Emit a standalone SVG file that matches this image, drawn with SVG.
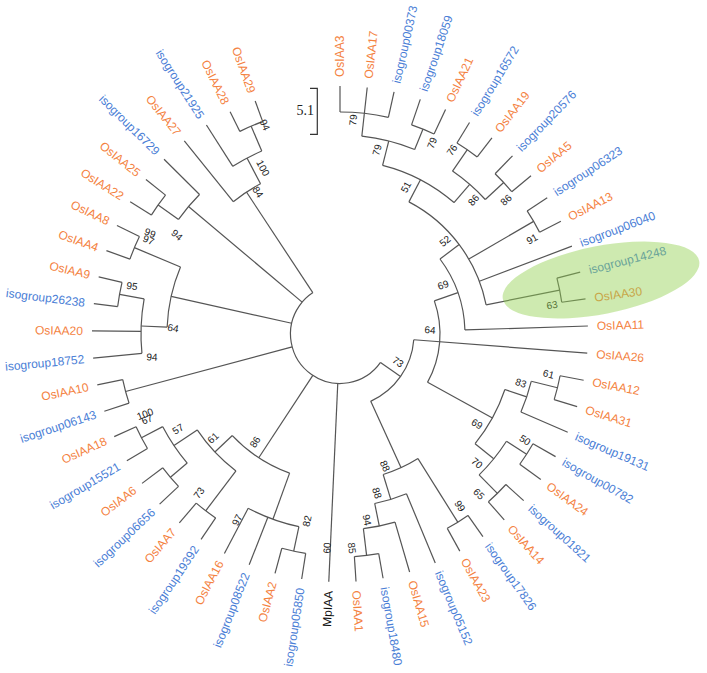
<svg xmlns="http://www.w3.org/2000/svg" width="707" height="673" viewBox="0 0 707 673">
<style>
.c line,.c circle{fill:none;stroke:#555;stroke-width:1.2}
text{font-family:"Liberation Sans",Arial,sans-serif;font-size:12px}
.o{fill:#F4823F}
.b{fill:#4A7ED6}
.k{fill:#111}
.r text{text-anchor:start}
.l text{text-anchor:end}
.bs{font-size:10px;fill:#222;text-anchor:middle}
</style>
<rect width="707" height="673" fill="#fff"/>
<g id="connectors" class="c">
<!-- arcs -->
<circle cx="340" cy="334" r="222" stroke-dasharray="48.78 3000" transform="rotate(-90 340 334)"/>
<circle cx="340" cy="334" r="221" stroke-dasharray="24.30 3000" transform="rotate(-71.11 340 334)"/>
<circle cx="340" cy="334" r="199" stroke-dasharray="54.67 3000" transform="rotate(-83.70 340 334)"/>
<circle cx="340" cy="334" r="224" stroke-dasharray="24.63 3000" transform="rotate(-58.52 340 334)"/>
<circle cx="340" cy="334" r="223" stroke-dasharray="24.52 3000" transform="rotate(-45.93 340 334)"/>
<circle cx="340" cy="334" r="198" stroke-dasharray="43.51 3000" transform="rotate(-55.37 340 334)"/>
<circle cx="340" cy="334" r="174" stroke-dasharray="81.27 3000" transform="rotate(-75.83 340 334)"/>
<circle cx="340" cy="334" r="224" stroke-dasharray="24.59 3000" transform="rotate(-33.33 340 334)"/>
<circle cx="340" cy="334" r="224" stroke-dasharray="24.59 3000" transform="rotate(-14.44 340 334)"/>
<circle cx="340" cy="334" r="149" stroke-dasharray="133.02 3000" transform="rotate(-62.45 340 334)"/>
<circle cx="340" cy="334" r="125" stroke-dasharray="76.40 3000" transform="rotate(-36.87 340 334)"/>
<circle cx="340" cy="334" r="224" stroke-dasharray="24.63 3000" transform="rotate(10.74 340 334)"/>
<circle cx="340" cy="334" r="197" stroke-dasharray="32.46 3000" transform="rotate(13.89 340 334)"/>
<circle cx="340" cy="334" r="222" stroke-dasharray="24.41 3000" transform="rotate(29.63 340 334)"/>
<circle cx="340" cy="334" r="224" stroke-dasharray="24.63 3000" transform="rotate(42.22 340 334)"/>
<circle cx="340" cy="334" r="198" stroke-dasharray="43.51 3000" transform="rotate(32.78 340 334)"/>
<circle cx="340" cy="334" r="174" stroke-dasharray="62.13 3000" transform="rotate(18.61 340 334)"/>
<circle cx="340" cy="334" r="100" stroke-dasharray="84.13 3000" transform="rotate(-19.36 340 334)"/>
<circle cx="340" cy="334" r="223" stroke-dasharray="24.52 3000" transform="rotate(80 340 334)"/>
<circle cx="340" cy="334" r="196" stroke-dasharray="32.33 3000" transform="rotate(73.70 340 334)"/>
<circle cx="340" cy="334" r="173" stroke-dasharray="33.27 3000" transform="rotate(67.41 340 334)"/>
<circle cx="340" cy="334" r="222" stroke-dasharray="24.41 3000" transform="rotate(54.81 340 334)"/>
<circle cx="340" cy="334" r="147" stroke-dasharray="38.38 3000" transform="rotate(57.96 340 334)"/>
<circle cx="340" cy="334" r="74" stroke-dasharray="78.78 3000" transform="rotate(4.44 340 334)"/>
<circle cx="340" cy="334" r="49.5" stroke-dasharray="174.11 3000" transform="rotate(35.09 340 334)"/>
<circle cx="340" cy="334" r="222" stroke-dasharray="24.41 3000" transform="rotate(98.89 340 334)"/>
<circle cx="340" cy="334" r="197" stroke-dasharray="54.12 3000" transform="rotate(102.04 340 334)"/>
<circle cx="340" cy="334" r="222" stroke-dasharray="24.41 3000" transform="rotate(124.07 340 334)"/>
<circle cx="340" cy="334" r="222" stroke-dasharray="24.37 3000" transform="rotate(136.67 340 334)"/>
<circle cx="340" cy="334" r="224" stroke-dasharray="24.63 3000" transform="rotate(149.26 340 334)"/>
<circle cx="340" cy="334" r="200" stroke-dasharray="43.98 3000" transform="rotate(139.81 340 334)"/>
<circle cx="340" cy="334" r="172" stroke-dasharray="56.71 3000" transform="rotate(127.22 340 334)"/>
<circle cx="340" cy="334" r="148" stroke-dasharray="69.12 3000" transform="rotate(109.91 340 334)"/>
<circle cx="340" cy="334" r="222" stroke-dasharray="24.41 3000" transform="rotate(161.85 340 334)"/>
<circle cx="340" cy="334" r="224" stroke-dasharray="24.59 3000" transform="rotate(187.04 340 334)"/>
<circle cx="340" cy="334" r="199" stroke-dasharray="54.70 3000" transform="rotate(174.44 340 334)"/>
<circle cx="340" cy="334" r="223" stroke-dasharray="24.52 3000" transform="rotate(199.63 340 334)"/>
<circle cx="340" cy="334" r="173" stroke-dasharray="61.81 3000" transform="rotate(182.31 340 334)"/>
<circle cx="340" cy="334" r="223" stroke-dasharray="24.52 3000" transform="rotate(212.22 340 334)"/>
<circle cx="340" cy="334" r="198" stroke-dasharray="32.62 3000" transform="rotate(215.37 340 334)"/>
<circle cx="340" cy="334" r="226" stroke-dasharray="24.85 3000" transform="rotate(243.70 340 334)"/>
<circle cx="340" cy="334" r="199" stroke-dasharray="32.79 3000" transform="rotate(237.41 340 334)"/>
<circle cx="340" cy="334" r="170" stroke-dasharray="32.70 3000" transform="rotate(231.11 340 334)"/>
<!-- leaf branches -->
<line x1="562" y1="334" x2="588" y2="334" transform="rotate(-90 340 334)"/>
<line x1="539" y1="334" x2="588" y2="334" transform="rotate(-83.70 340 334)"/>
<line x1="562" y1="334" x2="588" y2="334" transform="rotate(-77.41 340 334)"/>
<line x1="561" y1="334" x2="588" y2="334" transform="rotate(-71.11 340 334)"/>
<line x1="561" y1="334" x2="588" y2="334" transform="rotate(-64.81 340 334)"/>
<line x1="564" y1="334" x2="588" y2="334" transform="rotate(-58.52 340 334)"/>
<line x1="564" y1="334" x2="588" y2="334" transform="rotate(-52.22 340 334)"/>
<line x1="563" y1="334" x2="588" y2="334" transform="rotate(-45.93 340 334)"/>
<line x1="563" y1="334" x2="588" y2="334" transform="rotate(-39.63 340 334)"/>
<line x1="564" y1="334" x2="588" y2="334" transform="rotate(-33.33 340 334)"/>
<line x1="564" y1="334" x2="588" y2="334" transform="rotate(-27.04 340 334)"/>
<line x1="489" y1="334" x2="588" y2="334" transform="rotate(-20.74 340 334)"/>
<line x1="564" y1="334" x2="588" y2="334" transform="rotate(-14.44 340 334)"/>
<line x1="564" y1="334" x2="588" y2="334" transform="rotate(-8.15 340 334)"/>
<line x1="465" y1="334" x2="588" y2="334" transform="rotate(-1.85 340 334)"/>
<line x1="414" y1="334" x2="588" y2="334" transform="rotate(4.44 340 334)"/>
<line x1="564" y1="334" x2="588" y2="334" transform="rotate(10.74 340 334)"/>
<line x1="564" y1="334" x2="588" y2="334" transform="rotate(17.04 340 334)"/>
<line x1="537" y1="334" x2="588" y2="334" transform="rotate(23.33 340 334)"/>
<line x1="562" y1="334" x2="588" y2="334" transform="rotate(29.63 340 334)"/>
<line x1="562" y1="334" x2="588" y2="334" transform="rotate(35.93 340 334)"/>
<line x1="564" y1="334" x2="588" y2="334" transform="rotate(42.22 340 334)"/>
<line x1="564" y1="334" x2="588" y2="334" transform="rotate(48.52 340 334)"/>
<line x1="562" y1="334" x2="588" y2="334" transform="rotate(54.81 340 334)"/>
<line x1="562" y1="334" x2="588" y2="334" transform="rotate(61.11 340 334)"/>
<line x1="513" y1="334" x2="588" y2="334" transform="rotate(67.41 340 334)"/>
<line x1="536" y1="334" x2="588" y2="334" transform="rotate(73.70 340 334)"/>
<line x1="563" y1="334" x2="588" y2="334" transform="rotate(80 340 334)"/>
<line x1="563" y1="334" x2="588" y2="334" transform="rotate(86.30 340 334)"/>
<line x1="389.5" y1="334" x2="588" y2="334" transform="rotate(92.59 340 334)"/>
<line x1="562" y1="334" x2="588" y2="334" transform="rotate(98.89 340 334)"/>
<line x1="562" y1="334" x2="588" y2="334" transform="rotate(105.19 340 334)"/>
<line x1="537" y1="334" x2="588" y2="334" transform="rotate(111.48 340 334)"/>
<line x1="537" y1="334" x2="588" y2="334" transform="rotate(117.78 340 334)"/>
<line x1="562" y1="334" x2="588" y2="334" transform="rotate(124.07 340 334)"/>
<line x1="562" y1="334" x2="588" y2="334" transform="rotate(130.37 340 334)"/>
<line x1="562" y1="334" x2="588" y2="334" transform="rotate(136.67 340 334)"/>
<line x1="562" y1="334" x2="588" y2="334" transform="rotate(142.96 340 334)"/>
<line x1="564" y1="334" x2="588" y2="334" transform="rotate(149.26 340 334)"/>
<line x1="564" y1="334" x2="588" y2="334" transform="rotate(155.56 340 334)"/>
<line x1="562" y1="334" x2="588" y2="334" transform="rotate(161.85 340 334)"/>
<line x1="562" y1="334" x2="588" y2="334" transform="rotate(168.15 340 334)"/>
<line x1="539" y1="334" x2="588" y2="334" transform="rotate(174.44 340 334)"/>
<line x1="539" y1="334" x2="588" y2="334" transform="rotate(180.74 340 334)"/>
<line x1="564" y1="334" x2="588" y2="334" transform="rotate(187.04 340 334)"/>
<line x1="564" y1="334" x2="588" y2="334" transform="rotate(193.33 340 334)"/>
<line x1="563" y1="334" x2="588" y2="334" transform="rotate(199.63 340 334)"/>
<line x1="563" y1="334" x2="588" y2="334" transform="rotate(205.93 340 334)"/>
<line x1="563" y1="334" x2="588" y2="334" transform="rotate(212.22 340 334)"/>
<line x1="563" y1="334" x2="588" y2="334" transform="rotate(218.52 340 334)"/>
<line x1="538" y1="334" x2="588" y2="334" transform="rotate(224.81 340 334)"/>
<line x1="510" y1="334" x2="588" y2="334" transform="rotate(231.11 340 334)"/>
<line x1="539" y1="334" x2="588" y2="334" transform="rotate(237.41 340 334)"/>
<line x1="566" y1="334" x2="588" y2="334" transform="rotate(243.70 340 334)"/>
<line x1="566" y1="334" x2="588" y2="334" transform="rotate(250 340 334)"/>
<!-- internal stems -->
<line x1="539" y1="334" x2="561" y2="334" transform="rotate(-67.96 340 334)"/>
<line x1="514" y1="334" x2="539" y2="334" transform="rotate(-75.83 340 334)"/>
<line x1="538" y1="334" x2="564" y2="334" transform="rotate(-55.37 340 334)"/>
<line x1="538" y1="334" x2="563" y2="334" transform="rotate(-42.78 340 334)"/>
<line x1="514" y1="334" x2="538" y2="334" transform="rotate(-49.07 340 334)"/>
<line x1="489" y1="334" x2="514" y2="334" transform="rotate(-62.45 340 334)"/>
<line x1="489" y1="334" x2="564" y2="334" transform="rotate(-30.19 340 334)"/>
<line x1="489" y1="334" x2="564" y2="334" transform="rotate(-11.30 340 334)"/>
<line x1="465" y1="334" x2="489" y2="334" transform="rotate(-36.87 340 334)"/>
<line x1="440" y1="334" x2="465" y2="334" transform="rotate(-19.36 340 334)"/>
<line x1="537" y1="334" x2="564" y2="334" transform="rotate(13.89 340 334)"/>
<line x1="514" y1="334" x2="537" y2="334" transform="rotate(18.61 340 334)"/>
<line x1="538" y1="334" x2="562" y2="334" transform="rotate(32.78 340 334)"/>
<line x1="538" y1="334" x2="564" y2="334" transform="rotate(45.37 340 334)"/>
<line x1="514" y1="334" x2="538" y2="334" transform="rotate(39.07 340 334)"/>
<line x1="440" y1="334" x2="514" y2="334" transform="rotate(28.84 340 334)"/>
<line x1="536" y1="334" x2="563" y2="334" transform="rotate(83.15 340 334)"/>
<line x1="513" y1="334" x2="536" y2="334" transform="rotate(78.43 340 334)"/>
<line x1="487" y1="334" x2="513" y2="334" transform="rotate(72.92 340 334)"/>
<line x1="487" y1="334" x2="562" y2="334" transform="rotate(57.96 340 334)"/>
<line x1="414" y1="334" x2="487" y2="334" transform="rotate(65.44 340 334)"/>
<line x1="389.5" y1="334" x2="414" y2="334" transform="rotate(35.09 340 334)"/>
<line x1="537" y1="334" x2="562" y2="334" transform="rotate(102.04 340 334)"/>
<line x1="488" y1="334" x2="537" y2="334" transform="rotate(109.91 340 334)"/>
<line x1="512" y1="334" x2="562" y2="334" transform="rotate(127.22 340 334)"/>
<line x1="540" y1="334" x2="562" y2="334" transform="rotate(139.81 340 334)"/>
<line x1="540" y1="334" x2="564" y2="334" transform="rotate(152.41 340 334)"/>
<line x1="512" y1="334" x2="540" y2="334" transform="rotate(146.11 340 334)"/>
<line x1="488" y1="334" x2="512" y2="334" transform="rotate(136.67 340 334)"/>
<line x1="389.5" y1="334" x2="488" y2="334" transform="rotate(123.29 340 334)"/>
<line x1="389.5" y1="334" x2="562" y2="334" transform="rotate(165 340 334)"/>
<line x1="539" y1="334" x2="564" y2="334" transform="rotate(190.19 340 334)"/>
<line x1="513" y1="334" x2="539" y2="334" transform="rotate(182.31 340 334)"/>
<line x1="513" y1="334" x2="563" y2="334" transform="rotate(202.78 340 334)"/>
<line x1="389.5" y1="334" x2="513" y2="334" transform="rotate(192.55 340 334)"/>
<line x1="538" y1="334" x2="563" y2="334" transform="rotate(215.37 340 334)"/>
<line x1="389.5" y1="334" x2="538" y2="334" transform="rotate(220.09 340 334)"/>
<line x1="539" y1="334" x2="566" y2="334" transform="rotate(246.85 340 334)"/>
<line x1="510" y1="334" x2="539" y2="334" transform="rotate(242.13 340 334)"/>
<line x1="389.5" y1="334" x2="510" y2="334" transform="rotate(236.62 340 334)"/>
</g>
<g class="r">
<g id="OsIAA3" transform="rotate(-90 340 334)"><text class="o" x="597" y="338.3">OsIAA3</text></g>
<g id="OsIAA17" transform="rotate(-83.70 340 334)"><text class="o" x="597" y="338.3">OsIAA17</text></g>
<g id="isogroup00373" transform="rotate(-77.41 340 334)"><text class="b" x="597" y="338.3">isogroup00373</text></g>
<g id="isogroup18059" transform="rotate(-71.11 340 334)"><text class="b" x="597" y="338.3">isogroup18059</text></g>
<g id="OsIAA21" transform="rotate(-64.81 340 334)"><text class="o" x="597" y="338.3">OsIAA21</text></g>
<g id="isogroup16572" transform="rotate(-58.52 340 334)"><text class="b" x="597" y="338.3">isogroup16572</text></g>
<g id="OsIAA19" transform="rotate(-52.22 340 334)"><text class="o" x="597" y="338.3">OsIAA19</text></g>
<g id="isogroup20576" transform="rotate(-45.93 340 334)"><text class="b" x="597" y="338.3">isogroup20576</text></g>
<g id="OsIAA5" transform="rotate(-39.63 340 334)"><text class="o" x="597" y="338.3">OsIAA5</text></g>
<g id="isogroup06323" transform="rotate(-33.33 340 334)"><text class="b" x="597" y="338.3">isogroup06323</text></g>
<g id="OsIAA13" transform="rotate(-27.04 340 334)"><text class="o" x="597" y="338.3">OsIAA13</text></g>
<g id="isogroup06040" transform="rotate(-20.74 340 334)"><text class="b" x="597" y="338.3">isogroup06040</text></g>
<g id="isogroup14248" transform="rotate(-14.44 340 334)"><text class="b" x="597" y="338.3">isogroup14248</text></g>
<g id="OsIAA30" transform="rotate(-8.15 340 334)"><text class="o" x="597" y="338.3">OsIAA30</text></g>
<g id="OsIAA11" transform="rotate(-1.85 340 334)"><text class="o" x="597" y="338.3">OsIAA11</text></g>
<g id="OsIAA26" transform="rotate(4.44 340 334)"><text class="o" x="597" y="338.3">OsIAA26</text></g>
<g id="OsIAA12" transform="rotate(10.74 340 334)"><text class="o" x="597" y="338.3">OsIAA12</text></g>
<g id="OsIAA31" transform="rotate(17.04 340 334)"><text class="o" x="597" y="338.3">OsIAA31</text></g>
<g id="isogroup19131" transform="rotate(23.33 340 334)"><text class="b" x="597" y="338.3">isogroup19131</text></g>
<g id="isogroup00782" transform="rotate(29.63 340 334)"><text class="b" x="597" y="338.3">isogroup00782</text></g>
<g id="OsIAA24" transform="rotate(35.93 340 334)"><text class="o" x="597" y="338.3">OsIAA24</text></g>
<g id="isogroup01821" transform="rotate(42.22 340 334)"><text class="b" x="597" y="338.3">isogroup01821</text></g>
<g id="OsIAA14" transform="rotate(48.52 340 334)"><text class="o" x="597" y="338.3">OsIAA14</text></g>
<g id="isogroup17826" transform="rotate(54.81 340 334)"><text class="b" x="597" y="338.3">isogroup17826</text></g>
<g id="OsIAA23" transform="rotate(61.11 340 334)"><text class="o" x="597" y="338.3">OsIAA23</text></g>
<g id="isogroup05152" transform="rotate(67.41 340 334)"><text class="b" x="597" y="338.3">isogroup05152</text></g>
<g id="OsIAA15" transform="rotate(73.70 340 334)"><text class="o" x="597" y="338.3">OsIAA15</text></g>
<g id="isogroup18480" transform="rotate(80 340 334)"><text class="b" x="597" y="338.3">isogroup18480</text></g>
<g id="OsIAA1" transform="rotate(86.30 340 334)"><text class="o" x="597" y="338.3">OsIAA1</text></g>
</g>
<g class="l">
<g id="MpIAA" transform="rotate(-87.41 340 334)"><text class="k" x="83" y="338.3">MpIAA</text></g>
<g id="isogroup05850" transform="rotate(-81.11 340 334)"><text class="b" x="83" y="338.3">isogroup05850</text></g>
<g id="OsIAA2" transform="rotate(-74.81 340 334)"><text class="o" x="83" y="338.3">OsIAA2</text></g>
<g id="isogroup08522" transform="rotate(-68.52 340 334)"><text class="b" x="83" y="338.3">isogroup08522</text></g>
<g id="OsIAA16" transform="rotate(-62.22 340 334)"><text class="o" x="83" y="338.3">OsIAA16</text></g>
<g id="isogroup19392" transform="rotate(-55.93 340 334)"><text class="b" x="83" y="338.3">isogroup19392</text></g>
<g id="OsIAA7" transform="rotate(-49.63 340 334)"><text class="o" x="83" y="338.3">OsIAA7</text></g>
<g id="isogroup06656" transform="rotate(-43.33 340 334)"><text class="b" x="83" y="338.3">isogroup06656</text></g>
<g id="OsIAA6" transform="rotate(-37.04 340 334)"><text class="o" x="83" y="338.3">OsIAA6</text></g>
<g id="isogroup15521" transform="rotate(-30.74 340 334)"><text class="b" x="83" y="338.3">isogroup15521</text></g>
<g id="OsIAA18" transform="rotate(-24.44 340 334)"><text class="o" x="83" y="338.3">OsIAA18</text></g>
<g id="isogroup06143" transform="rotate(-18.15 340 334)"><text class="b" x="83" y="338.3">isogroup06143</text></g>
<g id="OsIAA10" transform="rotate(-11.85 340 334)"><text class="o" x="83" y="338.3">OsIAA10</text></g>
<g id="isogroup18752" transform="rotate(-5.56 340 334)"><text class="b" x="83" y="338.3">isogroup18752</text></g>
<g id="OsIAA20" transform="rotate(0.74 340 334)"><text class="o" x="83" y="338.3">OsIAA20</text></g>
<g id="isogroup26238" transform="rotate(7.04 340 334)"><text class="b" x="83" y="338.3">isogroup26238</text></g>
<g id="OsIAA9" transform="rotate(13.33 340 334)"><text class="o" x="83" y="338.3">OsIAA9</text></g>
<g id="OsIAA4" transform="rotate(19.63 340 334)"><text class="o" x="83" y="338.3">OsIAA4</text></g>
<g id="OsIAA8" transform="rotate(25.93 340 334)"><text class="o" x="83" y="338.3">OsIAA8</text></g>
<g id="OsIAA22" transform="rotate(32.22 340 334)"><text class="o" x="83" y="338.3">OsIAA22</text></g>
<g id="OsIAA25" transform="rotate(38.52 340 334)"><text class="o" x="83" y="338.3">OsIAA25</text></g>
<g id="isogroup16729" transform="rotate(44.81 340 334)"><text class="b" x="83" y="338.3">isogroup16729</text></g>
<g id="OsIAA27" transform="rotate(51.11 340 334)"><text class="o" x="83" y="338.3">OsIAA27</text></g>
<g id="isogroup21925" transform="rotate(57.41 340 334)"><text class="b" x="83" y="338.3">isogroup21925</text></g>
<g id="OsIAA28" transform="rotate(63.70 340 334)"><text class="o" x="83" y="338.3">OsIAA28</text></g>
<g id="OsIAA29" transform="rotate(70 340 334)"><text class="o" x="83" y="338.3">OsIAA29</text></g>
</g>
<g id="support" class="bs">
<g id="n1"><text class="bs" transform="translate(353 120) rotate(-84)" dy="3.5">79</text></g>
<g id="n3"><text class="bs" transform="translate(377 150) rotate(-76)" dy="3.5">79</text></g>
<g id="n4"><text class="bs" transform="translate(432 143) rotate(-68)" dy="3.5">79</text></g>
<g id="n7"><text class="bs" transform="translate(452 150) rotate(-55)" dy="3.5">76</text></g>
<g id="n5"><text class="bs" transform="translate(406 187) rotate(-62)" dy="3.5">51</text></g>
<g id="n6"><text class="bs" transform="translate(473.5 200) rotate(-49)" dy="3.5">86</text></g>
<g id="n8"><text class="bs" transform="translate(506 200) rotate(-43)" dy="3.5">86</text></g>
<g id="n9"><text class="bs" transform="translate(445 241) rotate(-37)" dy="3.5">52</text></g>
<g id="n10"><text class="bs" transform="translate(532 239) rotate(-30)" dy="3.5">91</text></g>
<g id="n12"><text class="bs" transform="translate(443 285) rotate(-19)" dy="3.5">69</text></g>
<g id="n13"><text class="bs" transform="translate(552 305) rotate(-11)" dy="3.5">63</text></g>
<g id="n64r"><text class="bs" transform="translate(430 330) rotate(4)" dy="3.5">64</text></g>
<g id="n14"><text class="bs" transform="translate(398 362) rotate(35)" dy="3.5">73</text></g>
<g id="n17"><text class="bs" transform="translate(548.5 374) rotate(14)" dy="3.5">61</text></g>
<g id="n16"><text class="bs" transform="translate(521 383) rotate(19)" dy="3.5">83</text></g>
<g id="n15"><text class="bs" transform="translate(477 424) rotate(29)" dy="3.5">69</text></g>
<g id="n19"><text class="bs" transform="translate(525 440) rotate(33)" dy="3.5">50</text></g>
<g id="n18"><text class="bs" transform="translate(477 463) rotate(39)" dy="3.5">70</text></g>
<g id="n20"><text class="bs" transform="translate(479 494) rotate(45)" dy="3.5">65</text></g>
<g id="n22"><text class="bs" transform="translate(460 506) rotate(58)" dy="3.5">99</text></g>
<g id="n21"><text class="bs" transform="translate(385 466) rotate(65)" dy="3.5">88</text></g>
<g id="n23"><text class="bs" transform="translate(377 493) rotate(73)" dy="3.5">88</text></g>
<g id="n24"><text class="bs" transform="translate(367 520) rotate(78)" dy="3.5">94</text></g>
<g id="n25"><text class="bs" transform="translate(352 548) rotate(83)" dy="3.5">85</text></g>
<g id="nmp"><text class="bs" transform="translate(327 548) rotate(-87)" dy="3.5">60</text></g>
<g id="n28"><text class="bs" transform="translate(307 521) rotate(-78)" dy="3.5">82</text></g>
<g id="n27"><text class="bs" transform="translate(237 520) rotate(-64)" dy="3.5">97</text></g>
<g id="n26"><text class="bs" transform="translate(255 442) rotate(-57)" dy="3.5">86</text></g>
<g id="n31"><text class="bs" transform="translate(199 493) rotate(-53)" dy="3.5">73</text></g>
<g id="n30"><text class="bs" transform="translate(213 438) rotate(-43)" dy="3.5">61</text></g>
<g id="n32"><text class="bs" transform="translate(178 429) rotate(-34)" dy="3.5">57</text></g>
<g id="na"><text class="bs" transform="translate(145 414) rotate(-22)" dy="3.5">100</text></g>
<g id="nb"><text class="bs" transform="translate(147 419.5) rotate(-22)" dy="3.5">67</text></g>
<g id="n36"><text class="bs" transform="translate(152 357) rotate(3)" dy="3.5">94</text></g>
<g id="n35"><text class="bs" transform="translate(173 328) rotate(10)" dy="3.5">64</text></g>
<g id="n37"><text class="bs" transform="translate(132 286) rotate(8)" dy="3.5">95</text></g>
<g id="n38a"><text class="bs" transform="translate(150 233) rotate(23)" dy="3.5">99</text></g>
<g id="n38b"><text class="bs" transform="translate(148.5 240) rotate(23)" dy="3.5">97</text></g>
<g id="n40"><text class="bs" transform="translate(177 235) rotate(40)" dy="3.5">94</text></g>
<g id="n43"><text class="bs" transform="translate(258 192) rotate(57)" dy="3.5">84</text></g>
<g id="n42"><text class="bs" transform="translate(263 168) rotate(62)" dy="3.5">100</text></g>
<g id="n41"><text class="bs" transform="translate(265 125) rotate(67)" dy="3.5">94</text></g>
</g>
<g id="scale">
<path d="M310 88.3H317.3V134.3H310" fill="none" stroke="#333" stroke-width="1.2"/>
<text x="314" y="115" text-anchor="end" style="font-family:'Liberation Serif','Times New Roman',serif;font-size:14px" fill="#222">5.1</text>
</g>
<g id="highlight">
<ellipse cx="601" cy="280" rx="100" ry="34" transform="rotate(-11 601 280)" fill="#92D050" fill-opacity="0.45"/>
</g>
</svg>
